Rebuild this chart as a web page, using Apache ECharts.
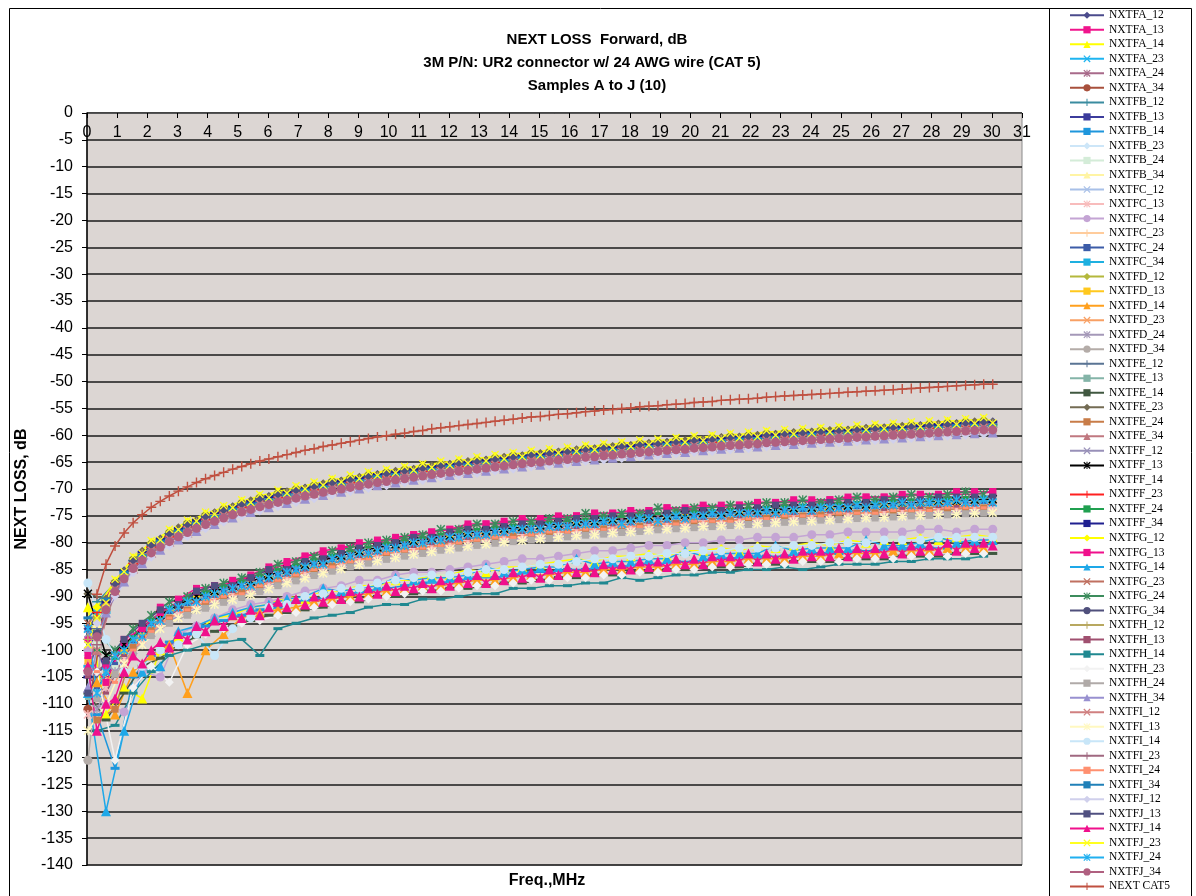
<!DOCTYPE html>
<html>
<head>
<meta charset="utf-8">
<title>NEXT LOSS Forward, dB</title>
<script src="https://cdn.jsdelivr.net/npm/echarts@6/dist/echarts.min.js"></script>
<style>
  html, body { margin: 0; padding: 0; background: #ffffff; }
  #chart { width: 1196px; height: 896px; }
</style>
</head>
<body>
<div id="chart"></div>
<script>
// Sweep frequencies in MHz (two interleaved halves of the 0.3 MHz sweep)
const FREQ_A = [0.03, 0.63, 1.23, 1.83, 2.43, 3.03, 3.63, 4.23, 4.83, 5.43, 6.03, 6.63, 7.23, 7.83, 8.43, 9.03, 9.63, 10.23, 10.83, 11.43, 12.03, 12.63, 13.23, 13.83, 14.43, 15.03, 15.63, 16.23, 16.83, 17.43, 18.03, 18.63, 19.23, 19.83, 20.43, 21.03, 21.63, 22.23, 22.83, 23.43, 24.03, 24.63, 25.23, 25.83, 26.43, 27.03, 27.63, 28.23, 28.83, 29.43, 30.03];
const FREQ_B = [0.33, 0.93, 1.53, 2.13, 2.73, 3.33, 3.93, 4.53, 5.13, 5.73, 6.33, 6.93, 7.53, 8.13, 8.73, 9.33, 9.93, 10.53, 11.13, 11.73, 12.33, 12.93, 13.53, 14.13, 14.73, 15.33, 15.93, 16.53, 17.13, 17.73, 18.33, 18.93, 19.53, 20.13, 20.73, 21.33, 21.93, 22.53, 23.13, 23.73, 24.33, 24.93, 25.53, 26.13, 26.73, 27.33, 27.93, 28.53, 29.13, 29.73];
const FREQ_ALL = FREQ_A.concat(FREQ_B).sort((a, b) => a - b);
const FREQ_CAT5 = FREQ_ALL.slice(1);

// Axis ticks
const X_TICKS = { min: 0, max: 31, step: 1 };
const Y_TICKS = { min: -140, max: 0, step: 5 };

// ---- NEXT loss, dB ----
const NXTFA_12 = [-96, -91.0, -85.2, -81.8, -79.3, -77.4, -75.8, -74.5, -73.3, -72.3, -71.4, -70.6, -69.8, -69.1, -68.5, -67.9, -67.3, -66.8, -66.3, -65.8, -65.4, -65.0, -64.6, -64.2, -63.8, -63.5, -63.1, -62.8, -62.5, -62.2, -61.9, -61.6, -61.3, -61.1, -60.8, -60.5, -60.3, -60.1, -59.8, -59.6, -59.4, -59.2, -59.0, -58.8, -58.6, -58.4, -58.2, -58.0, -57.8, -57.6, -57.5];
const NXTFA_13 = [-98, -103, -99, -95.5, -92, -90.5, -88.5, -88, -87.5, -86, -84.5, -83.5, -82.5, -81.5, -81, -80.5, -79.5, -79.5, -78.5, -78, -77.5, -77, -76.5, -76.5, -75.5, -76, -75.5, -75, -74.5, -74.5, -74.5, -74, -73.5, -74, -73.5, -73, -73, -72.5, -72.5, -72.5, -72, -72, -72, -71.5, -71.5, -71.5, -71, -71, -71, -71, -70.5];
const NXTFA_14 = [-92, -112, -107, -109, -100, -97.5, -96.5, -94, -93.5, -92, -91.5, -90, -90.5, -89, -89, -88, -88, -87, -87, -86, -86, -85, -85.5, -84.5, -84.5, -84, -83.5, -83, -83.5, -82.5, -82.5, -82, -82.5, -81.5, -81.5, -81, -81.5, -80.5, -81, -80.5, -80, -80.5, -79.5, -80, -79.5, -79.5, -79, -79.5, -79, -78.5, -79];
const NXTFA_23 = [-93, -88.1, -83.8, -80.9, -78.8, -77.1, -75.6, -74.4, -73.3, -72.3, -71.5, -70.7, -70.0, -69.3, -68.7, -68.1, -67.6, -67.1, -66.6, -66.1, -65.7, -65.3, -64.9, -64.5, -64.1, -63.8, -63.5, -63.1, -62.8, -62.5, -62.2, -62.0, -61.7, -61.4, -61.2, -60.9, -60.7, -60.4, -60.2, -60.0, -59.8, -59.6, -59.4, -59.2, -59.0, -58.8, -58.6, -58.4, -58.2, -58.0];
const NXTFA_24 = [-104, -101, -98, -94.8, -92.5, -91, -89.7, -88.6, -87.7, -86.6, -85.5, -84.6, -83.6, -82.8, -82.0, -81.3, -80.6, -80.0, -79.5, -78.9, -78.5, -78.0, -77.6, -77.3, -77.0, -76.7, -76.4, -76.1, -75.9, -75.6, -75.4, -75.1, -74.9, -74.7, -74.5, -74.3, -74.1, -73.9, -73.7, -73.5, -73.3, -73.2, -73.0, -72.9, -72.7, -72.5, -72.4, -72.3, -72.1, -72.0];
const NXTFA_34 = [-111, -92.0, -86.2, -82.8, -80.3, -78.4, -76.8, -75.5, -74.3, -73.3, -72.4, -71.6, -70.8, -70.1, -69.5, -68.9, -68.3, -67.8, -67.3, -66.8, -66.4, -66.0, -65.6, -65.2, -64.8, -64.5, -64.1, -63.8, -63.5, -63.2, -62.9, -62.6, -62.3, -62.1, -61.8, -61.5, -61.3, -61.1, -60.8, -60.6, -60.4, -60.2, -60.0, -59.8, -59.6, -59.4, -59.2, -59.0, -58.8, -58.6, -58.5];

const NXTFB_12 = [-91, -87.6, -83.3, -80.4, -78.3, -76.6, -75.1, -73.9, -72.8, -71.8, -71.0, -70.2, -69.5, -68.8, -68.2, -67.6, -67.1, -66.6, -66.1, -65.6, -65.2, -64.8, -64.4, -64.0, -63.6, -63.3, -63.0, -62.6, -62.3, -62.0, -61.7, -61.5, -61.2, -60.9, -60.7, -60.4, -60.2, -59.9, -59.7, -59.5, -59.3, -59.1, -58.9, -58.7, -58.5, -58.3, -58.1, -57.9, -57.7, -57.5];
const NXTFB_13 = [-96, -104, -99.5, -96, -93, -91, -89.5, -88.5, -87.6, -86.7, -85.6, -84.5, -83.6, -82.7, -81.9, -81.1, -80.4, -79.8, -79.2, -78.7, -78.2, -77.7, -77.3, -76.9, -76.6, -76.3, -76.0, -75.7, -75.5, -75.2, -75.0, -74.7, -74.5, -74.3, -74.0, -73.9, -73.7, -73.5, -73.3, -73.1, -73.0, -72.8, -72.6, -72.4, -72.3, -72.1, -72.0, -71.8, -71.7, -71.5, -71.4];
const NXTFB_14 = [-112, -122, -105, -101, -98.5, -97, -95.5, -94.5, -93.5, -92.5, -92, -91, -90.5, -90, -89.5, -89, -88.5, -88, -87.5, -87.5, -87, -86.5, -86.5, -86, -85.5, -85.5, -85, -85, -84.5, -84.5, -84, -84, -83.5, -83.5, -83, -83, -82.5, -82.5, -82.5, -82, -82, -82, -81.5, -81.5, -81, -81, -81, -81, -80.5, -80.5];
const NXTFB_23 = [-101, -93, -86.5, -82.6, -80.1, -78.6, -76.7, -75.6, -74.2, -73.4, -72.3, -71.7, -70.7, -70.2, -69.4, -69.0, -68.2, -67.9, -67.2, -66.9, -66.3, -66.1, -65.5, -65.3, -64.7, -64.6, -64.0, -63.9, -63.4, -63.3, -62.8, -62.7, -62.2, -62.2, -61.7, -61.6, -61.2, -61.2, -60.7, -60.7, -60.3, -60.3, -59.9, -59.9, -59.5, -59.5, -59.1, -59.1, -58.7, -58.7, -58.5];
const NXTFB_24 = [-99, -103, -99, -95.8, -93.5, -92, -90.7, -89.6, -88.7, -87.6, -86.5, -85.6, -84.6, -83.8, -83.0, -82.3, -81.6, -81.0, -80.5, -79.9, -79.5, -79.0, -78.6, -78.3, -78.0, -77.7, -77.4, -77.1, -76.9, -76.6, -76.4, -76.1, -75.9, -75.7, -75.5, -75.3, -75.1, -74.9, -74.7, -74.5, -74.3, -74.2, -74.0, -73.9, -73.7, -73.5, -73.4, -73.3, -73.1, -73.0];
const NXTFB_34 = [-95, -88.6, -84.3, -81.4, -79.3, -77.6, -76.1, -74.9, -73.8, -72.8, -72.0, -71.2, -70.5, -69.8, -69.2, -68.6, -68.1, -67.6, -67.1, -66.6, -66.2, -65.8, -65.4, -65.0, -64.6, -64.3, -64.0, -63.6, -63.3, -63.0, -62.7, -62.5, -62.2, -61.9, -61.7, -61.4, -61.2, -60.9, -60.7, -60.5, -60.3, -60.1, -59.9, -59.7, -59.5, -59.3, -59.1, -58.9, -58.7, -58.5];

const NXTFC_12 = [-99, -91.5, -85.7, -82.3, -79.8, -77.9, -76.3, -75.0, -73.8, -72.8, -71.9, -71.1, -70.3, -69.6, -69.0, -68.4, -67.8, -67.3, -66.8, -66.3, -65.9, -65.5, -65.1, -64.7, -64.3, -64.0, -63.6, -63.3, -63.0, -62.7, -62.4, -62.1, -61.8, -61.6, -61.3, -61.0, -60.8, -60.6, -60.3, -60.1, -59.9, -59.7, -59.5, -59.3, -59.1, -58.9, -58.7, -58.5, -58.3, -58.1, -58.0];
const NXTFC_13 = [-112, -107, -101.5, -98, -95, -93, -91.5, -90.5, -89.6, -88.7, -87.6, -86.5, -85.6, -84.7, -83.9, -83.1, -82.4, -81.8, -81.2, -80.7, -80.2, -79.7, -79.3, -78.9, -78.6, -78.3, -78.0, -77.7, -77.5, -77.2, -77.0, -76.7, -76.5, -76.3, -76.0, -75.9, -75.7, -75.5, -75.3, -75.1, -75.0, -74.8, -74.6, -74.4, -74.3, -74.1, -74.0, -73.8, -73.7, -73.5, -73.4];
const NXTFC_14 = [-100, -110, -111.5, -104, -105, -97, -95.5, -94, -92.5, -91.5, -91, -90, -89, -88.5, -88, -87, -87, -86, -85.5, -85.5, -85, -84.5, -84, -83.5, -83, -83, -82.5, -82, -81.5, -81.5, -81, -80.5, -80.5, -80, -80, -79.5, -79.5, -79, -79, -79, -78.5, -78.5, -78, -78, -78, -78, -77.5, -77.5, -78, -77.5, -77.5];
const NXTFC_23 = [-98, -89.1, -84.8, -81.9, -79.8, -78.1, -76.6, -75.4, -74.3, -73.3, -72.5, -71.7, -71.0, -70.3, -69.7, -69.1, -68.6, -68.1, -67.6, -67.1, -66.7, -66.3, -65.9, -65.5, -65.1, -64.8, -64.5, -64.1, -63.8, -63.5, -63.2, -63.0, -62.7, -62.4, -62.2, -61.9, -61.7, -61.4, -61.2, -61.0, -60.8, -60.6, -60.4, -60.2, -60.0, -59.8, -59.6, -59.4, -59.2, -59.0];
const NXTFC_24 = [-107, -102.5, -98.5, -95.3, -93, -91.5, -90.2, -89.1, -88.2, -87.1, -86.0, -85.1, -84.1, -83.3, -82.5, -81.8, -81.1, -80.5, -80.0, -79.4, -79.0, -78.5, -78.1, -77.8, -77.5, -77.2, -76.9, -76.6, -76.4, -76.1, -75.9, -75.6, -75.4, -75.2, -75.0, -74.8, -74.6, -74.4, -74.2, -74.0, -73.8, -73.7, -73.5, -73.4, -73.2, -73.0, -72.9, -72.8, -72.6, -72.5];
const NXTFC_34 = [-103, -93, -85.7, -82.3, -79.8, -77.9, -76.3, -75.0, -73.8, -72.8, -71.9, -71.1, -70.3, -69.6, -69.0, -68.4, -67.8, -67.3, -66.8, -66.3, -65.9, -65.5, -65.1, -64.7, -64.3, -64.0, -63.6, -63.3, -63.0, -62.7, -62.4, -62.1, -61.8, -61.6, -61.3, -61.0, -60.8, -60.6, -60.3, -60.1, -59.9, -59.7, -59.5, -59.3, -59.1, -58.9, -58.7, -58.5, -58.3, -58.1, -58.0];

const NXTFD_12 = [-94, -87.4, -83.5, -80.3, -78.4, -76.5, -75.2, -73.8, -72.9, -71.7, -71.1, -70.1, -69.6, -68.7, -68.3, -67.5, -67.2, -66.5, -66.2, -65.5, -65.3, -64.7, -64.5, -63.9, -63.7, -63.2, -63.1, -62.5, -62.4, -61.9, -61.8, -61.4, -61.3, -60.8, -60.8, -60.3, -60.3, -59.8, -59.8, -59.4, -59.4, -59.0, -59.0, -58.6, -58.6, -58.2, -58.2, -57.8, -57.8, -57.5];
const NXTFD_13 = [-102, -106, -100.5, -97, -94, -92, -90.5, -89.5, -88.6, -87.7, -86.6, -85.5, -84.6, -83.7, -82.9, -82.1, -81.4, -80.8, -80.2, -79.7, -79.2, -78.7, -78.3, -77.9, -77.6, -77.3, -77.0, -76.7, -76.5, -76.2, -76.0, -75.7, -75.5, -75.3, -75.0, -74.9, -74.7, -74.5, -74.3, -74.1, -74.0, -73.8, -73.6, -73.4, -73.3, -73.1, -73.0, -72.8, -72.7, -72.5, -72.4];
const NXTFD_14 = [-106, -112, -104, -101, -99, -108, -100, -97, -94, -93, -92.5, -92, -91, -90.5, -90, -89.5, -89, -88.5, -88, -88, -87.5, -87, -87, -86.5, -86, -86, -85.5, -85.5, -85, -85, -84.5, -84.5, -84, -84, -83.5, -83.5, -83, -83, -83, -82.5, -82.5, -82, -82, -82, -81.5, -81.5, -81.5, -81, -81, -81];
const NXTFD_23 = [-102, -92.5, -86.7, -83.3, -80.8, -78.9, -77.3, -76.0, -74.8, -73.8, -72.9, -72.1, -71.3, -70.6, -70.0, -69.4, -68.8, -68.3, -67.8, -67.3, -66.9, -66.5, -66.1, -65.7, -65.3, -65.0, -64.6, -64.3, -64.0, -63.7, -63.4, -63.1, -62.8, -62.6, -62.3, -62.0, -61.8, -61.6, -61.3, -61.1, -60.9, -60.7, -60.5, -60.3, -60.1, -59.9, -59.7, -59.5, -59.3, -59.1, -59.0];
const NXTFD_24 = [-111, -104, -100, -96.8, -94.5, -93, -91.7, -90.6, -89.7, -88.6, -87.5, -86.6, -85.6, -84.8, -84.0, -83.3, -82.6, -82.0, -81.5, -80.9, -80.5, -80.0, -79.6, -79.3, -79.0, -78.7, -78.4, -78.1, -77.9, -77.6, -77.4, -77.1, -76.9, -76.7, -76.5, -76.3, -76.1, -75.9, -75.7, -75.5, -75.3, -75.2, -75.0, -74.9, -74.7, -74.5, -74.4, -74.3, -74.1, -74.0];
const NXTFD_34 = [-120.5, -92.0, -86.2, -82.8, -80.3, -78.4, -76.8, -75.5, -74.3, -73.3, -72.4, -71.6, -70.8, -70.1, -69.5, -68.9, -68.3, -67.8, -67.3, -66.8, -66.4, -66.0, -65.6, -65.2, -64.8, -64.5, -64.1, -63.8, -63.5, -63.2, -62.9, -62.6, -62.3, -62.1, -61.8, -61.5, -61.3, -61.1, -60.8, -60.6, -60.4, -60.2, -60.0, -59.8, -59.6, -59.4, -59.2, -59.0, -58.8, -58.6, -58.5];

const NXTFE_12 = [-96, -89, -83.8, -80.9, -78.8, -77.1, -75.6, -74.4, -73.3, -72.3, -71.5, -70.7, -70.0, -69.3, -68.7, -68.1, -67.6, -67.1, -66.6, -66.1, -65.7, -65.3, -64.9, -64.5, -64.1, -63.8, -63.5, -63.1, -62.8, -62.5, -62.2, -62.0, -61.7, -61.4, -61.2, -60.9, -60.7, -60.4, -60.2, -60.0, -59.8, -59.6, -59.4, -59.2, -59.0, -58.8, -58.6, -58.4, -58.2, -58.0];
const NXTFE_13 = [-109, -104, -101, -96.5, -94.5, -91.5, -90.5, -89, -89, -87.5, -86.5, -86, -84.5, -84, -83, -82, -81.5, -81, -80, -79.5, -79.5, -78.5, -78.5, -78, -77.5, -77.5, -77, -76.5, -76.5, -76, -76, -75.5, -75.5, -75.5, -75, -75, -74.5, -74.5, -74, -74, -74, -73.5, -73.5, -73.5, -73, -73, -73, -72.5, -72.5, -72.5, -72.5];
const NXTFE_14 = [-108, -113, -108, -103, -101.5, -99, -97.5, -96.5, -95.5, -94.5, -93.5, -93, -92.5, -92, -91, -91, -90, -90, -89.5, -89, -88.5, -88.5, -88, -87.5, -87.5, -87, -86.5, -86.5, -86, -86, -85.5, -85.5, -85, -85, -84.5, -84.5, -84.5, -84, -84, -83.5, -83.5, -83.5, -83, -83, -83, -82.5, -82.5, -82.5, -82, -82, -82];
const NXTFE_23 = [-89.5, -90.5, -85.4, -81.6, -79.5, -77.2, -75.9, -74.4, -73.4, -72.2, -71.5, -70.5, -69.9, -69.0, -68.6, -67.8, -67.4, -66.7, -66.4, -65.7, -65.5, -64.9, -64.7, -64.1, -63.9, -63.4, -63.2, -62.7, -62.6, -62.1, -62.0, -61.5, -61.4, -61.0, -60.9, -60.4, -60.4, -60.0, -59.9, -59.5, -59.5, -59.1, -59.1, -58.7, -58.7, -58.3, -58.3, -57.9, -57.9, -57.5, -57.6];
const NXTFE_24 = [-113, -111, -99.5, -96.3, -94, -92.5, -91.2, -90.1, -89.2, -88.1, -87.0, -86.1, -85.1, -84.3, -83.5, -82.8, -82.1, -81.5, -81.0, -80.4, -80.0, -79.5, -79.1, -78.8, -78.5, -78.2, -77.9, -77.6, -77.4, -77.1, -76.9, -76.6, -76.4, -76.2, -76.0, -75.8, -75.6, -75.4, -75.2, -75.0, -74.8, -74.7, -74.5, -74.4, -74.2, -74.0, -73.9, -73.8, -73.6, -73.5];
const NXTFE_34 = [-100, -89.1, -84.8, -81.9, -79.8, -78.1, -76.6, -75.4, -74.3, -73.3, -72.5, -71.7, -71.0, -70.3, -69.7, -69.1, -68.6, -68.1, -67.6, -67.1, -66.7, -66.3, -65.9, -65.5, -65.1, -64.8, -64.5, -64.1, -63.8, -63.5, -63.2, -63.0, -62.7, -62.4, -62.2, -61.9, -61.7, -61.4, -61.2, -61.0, -60.8, -60.6, -60.4, -60.2, -60.0, -59.8, -59.6, -59.4, -59.2, -59.0];

const NXTFF_12 = [-97, -92.5, -86.7, -83.3, -80.8, -78.9, -77.3, -76.0, -74.8, -73.8, -72.9, -72.1, -71.3, -70.6, -70.0, -69.4, -68.8, -68.3, -67.8, -67.3, -66.9, -66.5, -66.1, -65.7, -65.3, -65.0, -64.6, -64.3, -64.0, -63.7, -63.4, -63.1, -62.8, -62.6, -62.3, -62.0, -61.8, -61.6, -61.3, -61.1, -60.9, -60.7, -60.5, -60.3, -60.1, -59.9, -59.7, -59.5, -59.3, -59.1, -59.0];
const NXTFF_13 = [-89.5, -101, -99, -96, -93.5, -91.5, -90, -89, -88, -87.2, -86.1, -85, -84.1, -83.2, -82.4, -81.6, -80.9, -80.3, -79.7, -79.2, -78.7, -78.2, -77.8, -77.4, -77.1, -76.8, -76.5, -76.2, -76.0, -75.7, -75.5, -75.2, -75.0, -74.8, -74.5, -74.4, -74.2, -74.0, -73.8, -73.6, -73.5, -73.3, -73.1, -72.9, -72.8, -72.6, -72.5, -72.3, -72.2, -72.0, -71.9];
const NXTFF_14 = [-110, -115, -104, -100, -98, -96.5, -95.5, -94.5, -93.5, -92.5, -92, -91, -90.5, -90, -89.5, -89, -88.5, -88, -87.5, -87.5, -87, -86.5, -86, -86, -85.5, -85.5, -85, -84.5, -84.5, -84, -84, -83.5, -83.5, -83, -83, -83, -82.5, -82.5, -82, -82, -82, -81.5, -81.5, -81.5, -81, -81, -81, -80.5, -80.5, -80.5];
const NXTFF_23 = [-93, -87.5, -83.9, -80.8, -78.9, -77.0, -75.7, -74.3, -73.4, -72.2, -71.6, -70.6, -70.1, -69.2, -68.8, -68.0, -67.7, -67.0, -66.7, -66.0, -65.8, -65.2, -65.0, -64.4, -64.2, -63.7, -63.6, -63.0, -62.9, -62.4, -62.3, -61.9, -61.8, -61.3, -61.3, -60.8, -60.8, -60.3, -60.3, -59.9, -59.9, -59.5, -59.5, -59.1, -59.1, -58.7, -58.7, -58.3, -58.3, -57.9];
const NXTFF_24 = [-100, -101.5, -97.5, -94.3, -92, -90.5, -89.2, -88.1, -87.2, -86.1, -85.0, -84.1, -83.1, -82.3, -81.5, -80.8, -80.1, -79.5, -79.0, -78.4, -78.0, -77.5, -77.1, -76.8, -76.5, -76.2, -75.9, -75.6, -75.4, -75.1, -74.9, -74.6, -74.4, -74.2, -74.0, -73.8, -73.6, -73.4, -73.2, -73.0, -72.8, -72.7, -72.5, -72.4, -72.2, -72.0, -71.9, -71.8, -71.6, -71.5];
const NXTFF_34 = [-105, -91.0, -85.2, -81.8, -79.3, -77.4, -75.8, -74.5, -73.3, -72.3, -71.4, -70.6, -69.8, -69.1, -68.5, -67.9, -67.3, -66.8, -66.3, -65.8, -65.4, -65.0, -64.6, -64.2, -63.8, -63.5, -63.1, -62.8, -62.5, -62.2, -61.9, -61.6, -61.3, -61.1, -60.8, -60.5, -60.3, -60.1, -59.8, -59.6, -59.4, -59.2, -59.0, -58.8, -58.6, -58.4, -58.2, -58.0, -57.8, -57.6, -57.5];

const NXTFG_12 = [-92, -87.1, -82.8, -79.9, -77.8, -76.1, -74.6, -73.4, -72.3, -71.3, -70.5, -69.7, -69.0, -68.3, -67.7, -67.1, -66.6, -66.1, -65.6, -65.1, -64.7, -64.3, -63.9, -63.5, -63.1, -62.8, -62.5, -62.1, -61.8, -61.5, -61.2, -61.0, -60.7, -60.4, -60.2, -59.9, -59.7, -59.4, -59.2, -59.0, -58.8, -58.6, -58.4, -58.2, -58.0, -57.8, -57.6, -57.4, -57.2, -57.0];
const NXTFG_13 = [-101, -106, -98, -96, -93, -91, -89, -88, -87, -86.5, -85, -84, -82.5, -82, -81, -80, -80, -79, -78.5, -78, -77.5, -76.5, -76.5, -76, -76, -75.5, -75, -75, -74.5, -74.5, -74, -74, -73.5, -73.5, -73, -73.5, -73, -72.5, -72.5, -72, -72.5, -72, -71.5, -71.5, -71.5, -71, -71, -71, -70.5, -70.5, -70.5];
const NXTFG_14 = [-108, -130, -115, -104, -103, -96.5, -95.5, -94, -93, -92, -91.5, -90.5, -90, -88.5, -89, -88.5, -88, -86.5, -87, -86.5, -86.5, -86, -84.5, -85.5, -85, -84.5, -84.5, -83, -84, -83.5, -83.5, -83, -83, -81.5, -82.5, -82, -82, -82, -80.5, -81.5, -81, -81, -81, -79.5, -80.5, -80.5, -80, -79, -80, -79.5, -79.5];
const NXTFG_23 = [-95, -91, -86.2, -82.8, -80.3, -78.4, -76.8, -75.5, -74.3, -73.3, -72.4, -71.6, -70.8, -70.1, -69.5, -68.9, -68.3, -67.8, -67.3, -66.8, -66.4, -66.0, -65.6, -65.2, -64.8, -64.5, -64.1, -63.8, -63.5, -63.2, -62.9, -62.6, -62.3, -62.1, -61.8, -61.5, -61.3, -61.1, -60.8, -60.6, -60.4, -60.2, -60.0, -59.8, -59.6, -59.4, -59.2, -59.0, -58.8, -58.6, -58.5];
const NXTFG_24 = [-97, -100, -96, -93.5, -91, -90, -88.5, -87.5, -86.5, -85.5, -84, -83.5, -82.5, -81.5, -81, -80, -79.5, -79, -78.5, -77.5, -77.5, -76.5, -76.5, -76, -76, -75.5, -75.5, -74.5, -75, -74.5, -74.5, -73.5, -74, -73.5, -73.5, -73, -73, -72.5, -72.5, -72, -72.5, -72, -71.5, -72, -71.5, -71, -71.5, -71, -70.5, -71];
const NXTFG_34 = [-97, -87.6, -83.3, -80.4, -78.3, -76.6, -75.1, -73.9, -72.8, -71.8, -71.0, -70.2, -69.5, -68.8, -68.2, -67.6, -67.1, -66.6, -66.1, -65.6, -65.2, -64.8, -64.4, -64.0, -63.6, -63.3, -63.0, -62.6, -62.3, -62.0, -61.7, -61.5, -61.2, -60.9, -60.7, -60.4, -60.2, -59.9, -59.7, -59.5, -59.3, -59.1, -58.9, -58.7, -58.5, -58.3, -58.1, -57.9, -57.7, -57.5];

const NXTFH_12 = [-98, -92.5, -85.9, -82.1, -79.8, -78.1, -76.3, -74.8, -73.8, -72.9, -71.9, -71.0, -70.3, -69.7, -69.0, -68.3, -67.8, -67.4, -66.8, -66.2, -65.9, -65.6, -65.1, -64.6, -64.3, -64.1, -63.6, -63.2, -63.0, -62.8, -62.4, -62.0, -61.8, -61.7, -61.3, -60.9, -60.8, -60.7, -60.3, -60.0, -59.9, -59.8, -59.5, -59.2, -59.1, -59.0, -58.7, -58.4, -58.3, -58.2, -58.0];
const NXTFH_13 = [-105, -108, -101, -97.5, -94.5, -92.5, -91, -90, -89.1, -88.2, -87.1, -86, -85.1, -84.2, -83.4, -82.6, -81.9, -81.3, -80.7, -80.2, -79.7, -79.2, -78.8, -78.4, -78.1, -77.8, -77.5, -77.2, -77.0, -76.7, -76.5, -76.2, -76.0, -75.8, -75.5, -75.4, -75.2, -75.0, -74.8, -74.6, -74.5, -74.3, -74.1, -73.9, -73.8, -73.6, -73.5, -73.3, -73.2, -73.0, -72.9];
const NXTFH_14 = [-115, -114, -108, -104, -101, -100, -99, -98.5, -98, -101, -96, -95, -94, -93.5, -93, -92, -91.5, -91.5, -90.5, -90.5, -90, -89.5, -89.5, -88.5, -88.5, -88, -88, -87.5, -87.5, -86.5, -87, -86.5, -86, -86, -85.5, -85.5, -85, -85, -84.5, -85, -84.5, -84, -84, -84, -83.5, -83.5, -83, -83, -83, -82.5];
const NXTFH_23 = [-104, -120.5, -107, -103, -106, -99, -97, -96, -95, -94.5, -93.5, -93, -92, -91.5, -91, -90.5, -90, -89.5, -89, -89, -88.5, -88, -88, -87.5, -87, -87, -86.5, -86.5, -86, -86, -85.5, -85.5, -85, -85, -84.5, -84.5, -84, -84, -84, -83.5, -83.5, -83.5, -83, -83, -83, -82.5, -82.5, -82.5, -82, -82];
const NXTFH_24 = [-109, -104.5, -100.5, -97.3, -95, -93.5, -92.2, -91.1, -90.2, -89.1, -88.0, -87.1, -86.1, -85.3, -84.5, -83.8, -83.1, -82.5, -82.0, -81.4, -81.0, -80.5, -80.1, -79.8, -79.5, -79.2, -78.9, -78.6, -78.4, -78.1, -77.9, -77.6, -77.4, -77.2, -77.0, -76.8, -76.6, -76.4, -76.2, -76.0, -75.8, -75.7, -75.5, -75.4, -75.2, -75.0, -74.9, -74.8, -74.6, -74.5];
const NXTFH_34 = [-107, -93.0, -87.2, -83.8, -81.3, -79.4, -77.8, -76.5, -75.3, -74.3, -73.4, -72.6, -71.8, -71.1, -70.5, -69.9, -69.3, -68.8, -68.3, -67.8, -67.4, -67.0, -66.6, -66.2, -65.8, -65.5, -65.1, -64.8, -64.5, -64.2, -63.9, -63.6, -63.3, -63.1, -62.8, -62.5, -62.3, -62.1, -61.8, -61.6, -61.4, -61.2, -61.0, -60.8, -60.6, -60.4, -60.2, -60.0, -59.8, -59.6, -59.5];

const NXTFI_12 = [-100, -88.6, -84.3, -81.4, -79.3, -77.6, -76.1, -74.9, -73.8, -72.8, -72.0, -71.2, -70.5, -69.8, -69.2, -68.6, -68.1, -67.6, -67.1, -66.6, -66.2, -65.8, -65.4, -65.0, -64.6, -64.3, -64.0, -63.6, -63.3, -63.0, -62.7, -62.5, -62.2, -61.9, -61.7, -61.4, -61.2, -60.9, -60.7, -60.5, -60.3, -60.1, -59.9, -59.7, -59.5, -59.3, -59.1, -58.9, -58.7, -58.5];
const NXTFI_13 = [-115, -110, -102.5, -99, -96, -94, -92.5, -91.5, -90.6, -89.7, -88.6, -87.5, -86.6, -85.7, -84.9, -84.1, -83.4, -82.8, -82.2, -81.7, -81.2, -80.7, -80.3, -79.9, -79.6, -79.3, -79.0, -78.7, -78.5, -78.2, -78.0, -77.7, -77.5, -77.3, -77.0, -76.9, -76.7, -76.5, -76.3, -76.1, -76.0, -75.8, -75.6, -75.4, -75.3, -75.1, -75.0, -74.8, -74.7, -74.5, -74.4];
const NXTFI_14 = [-87.5, -98, -104, -103, -100, -99, -97, -101, -96, -94, -92, -91.5, -90, -89.5, -88.5, -88.5, -87.5, -87, -86.5, -86, -86, -85.5, -85, -85, -84.5, -84, -84, -83.5, -83, -83, -82.5, -82.5, -82, -82, -81.5, -81.5, -81, -81, -81, -80.5, -80.5, -80, -80, -80, -79.5, -79.5, -79.5, -79, -79, -79, -79];
const NXTFI_23 = [-99, -89.1, -84.8, -81.9, -79.8, -78.1, -76.6, -75.4, -74.3, -73.3, -72.5, -71.7, -71.0, -70.3, -69.7, -69.1, -68.6, -68.1, -67.6, -67.1, -66.7, -66.3, -65.9, -65.5, -65.1, -64.8, -64.5, -64.1, -63.8, -63.5, -63.2, -63.0, -62.7, -62.4, -62.2, -61.9, -61.7, -61.4, -61.2, -61.0, -60.8, -60.6, -60.4, -60.2, -60.0, -59.8, -59.6, -59.4, -59.2, -59.0];
const NXTFI_24 = [-104, -106, -100, -96.5, -94, -92.5, -91, -90, -89.5, -88, -87, -86, -85, -84.5, -83.5, -83, -82, -81.5, -81, -80.5, -80, -79.5, -79, -79, -78.5, -78, -78, -77.5, -77.5, -77, -77, -76.5, -76.5, -76, -76, -76, -75.5, -75.5, -75, -75, -75, -74.5, -74.5, -74.5, -74, -74, -74, -73.5, -73.5, -73.5];
const NXTFI_34 = [-94, -90.5, -85.5, -82.4, -79.7, -77.8, -76.4, -75.1, -73.7, -72.8, -72.0, -71.1, -70.2, -69.6, -69.1, -68.4, -67.7, -67.3, -66.9, -66.3, -65.8, -65.5, -65.2, -64.7, -64.2, -64.0, -63.7, -63.3, -62.9, -62.7, -62.5, -62.1, -61.7, -61.6, -61.4, -61.0, -60.7, -60.6, -60.4, -60.1, -59.8, -59.7, -59.6, -59.3, -59.0, -58.9, -58.8, -58.5, -58.2, -58.1, -58.1];

const NXTFJ_12 = [-95, -89.9, -85.6, -82.7, -80.6, -78.9, -77.4, -76.2, -75.1, -74.1, -73.3, -72.5, -71.8, -71.1, -70.5, -69.9, -69.4, -68.9, -68.4, -67.9, -67.5, -67.1, -66.7, -66.3, -65.9, -65.6, -65.3, -64.9, -64.6, -64.3, -64.0, -63.8, -63.5, -63.2, -63.0, -62.7, -62.5, -62.2, -62.0, -61.8, -61.6, -61.4, -61.2, -61.0, -60.8, -60.6, -60.4, -60.2, -60.0, -59.8];
const NXTFJ_13 = [-108, -102, -98, -95, -92.5, -91.5, -89, -88, -88, -86.5, -85, -85, -83.5, -83, -82, -81, -80.5, -80, -79, -79, -78, -77.5, -77.5, -77, -76.5, -76.5, -76, -75.5, -75.5, -75, -75, -74.5, -74.5, -74, -74, -74, -73.5, -73.5, -73, -73, -73, -72.5, -72.5, -72.5, -72, -72, -72, -71.5, -71.5, -71.5, -71.5];
const NXTFJ_14 = [
  -103, -115, -110, -109, -104, -101, -102.5, -100, -98.5, -99.5,
  -97, -98, -95.5, -96.5, -94.5, -95.5, -93.5, -94, -92.5, -93.5,
  -92, -91, -92, -90.5, -91.5, -90, -91, -89.5, -90.5, -89,
  -90, -88.5, -89.5, -88, -89, -88, -88.5, -87.5, -88.5, -87,
  -88, -86.5, -87.5, -86, -87.5, -86, -87, -85.5, -86.5, -85.5,
  -86.5, -85, -86, -84.5, -85.5, -84.5, -85.5, -84, -85, -84,
  -85, -83.5, -84.5, -83.5, -84.5, -83, -84, -83, -84, -82.5,
  -83.5, -82.5, -83.5, -82, -83.5, -82, -83, -82, -83, -81.5,
  -82.5, -81.5, -82.5, -81, -82.5, -81, -82, -81, -82, -80.5,
  -82, -80.5, -81.5, -80.5, -81.5, -80, -81.5, -80, -81, -80,
  -80.5];
const NXTFJ_23 = [
  -99, -94, -91.2, -86.8, -85.4, -82.5, -82.0, -79.6, -79.5, -77.5,
  -77.6, -75.8, -76.0, -74.3, -74.7, -73.1, -73.5, -72.0, -72.5, -71.0,
  -71.6, -70.2, -70.8, -69.4, -70.0, -68.7, -69.3, -68.0, -68.7, -67.4,
  -68.1, -66.8, -67.5, -66.3, -67.0, -65.8, -66.5, -65.3, -66.0, -64.8,
  -65.6, -64.4, -65.2, -64.0, -64.8, -63.6, -64.4, -63.2, -64.0, -62.8,
  -63.7, -62.5, -63.3, -62.2, -63.0, -61.8, -62.7, -61.5, -62.4, -61.2,
  -62.1, -60.9, -61.8, -60.7, -61.5, -60.4, -61.3, -60.1, -61.0, -59.9,
  -60.7, -59.6, -60.5, -59.4, -60.3, -59.1, -60.0, -58.9, -59.8, -58.7,
  -59.6, -58.5, -59.4, -58.3, -59.2, -58.1, -59.0, -57.9, -58.8, -57.7,
  -58.6, -57.5, -58.4, -57.3, -58.2, -57.1, -58.0, -56.9, -57.8, -56.7,
  -57.7];
const NXTFJ_24 = [
  -96, -108, -104, -101, -100, -98, -97.5, -95, -94.5, -92.5,
  -92, -91, -91, -90, -89.5, -89, -88.5, -88, -88, -87,
  -86.5, -86, -85.5, -85, -84.5, -84, -84, -83, -83, -82.5,
  -82, -82, -81.5, -81, -81, -80.5, -80, -80, -79.5, -79.5,
  -79, -79, -78.5, -78.5, -78.5, -78, -78, -77.5, -77.5, -77.5,
  -77.5, -77, -77, -77, -76.5, -76.5, -76.5, -76, -76, -76.5,
  -76, -75.5, -75.5, -76, -75.5, -75, -75.5, -75, -75, -74.5,
  -75, -74.5, -74.5, -74.5, -74.5, -74, -74.5, -74, -74, -73.5,
  -74, -73.5, -73.5, -73.5, -73.5, -73, -73.5, -73, -73, -73,
  -72.5, -73, -72.5, -72.5, -72.5, -72.5, -72, -72.5, -72.5, -72,
  -72.5];
const NXTFJ_34 = [
  -104, -97.5, -92.5, -89.1, -86.7, -84.8, -83.3, -81.9, -80.8, -79.8,
  -78.9, -78.1, -77.3, -76.6, -76.0, -75.4, -74.8, -74.3, -73.8, -73.3,
  -72.9, -72.5, -72.1, -71.7, -71.3, -71.0, -70.6, -70.3, -70.0, -69.7,
  -69.4, -69.1, -68.8, -68.6, -68.3, -68.1, -67.8, -67.6, -67.3, -67.1,
  -66.9, -66.7, -66.5, -66.3, -66.1, -65.9, -65.7, -65.5, -65.3, -65.1,
  -65.0, -64.8, -64.6, -64.5, -64.3, -64.1, -64.0, -63.8, -63.7, -63.5,
  -63.4, -63.2, -63.1, -63.0, -62.8, -62.7, -62.6, -62.4, -62.3, -62.2,
  -62.0, -61.9, -61.8, -61.7, -61.6, -61.4, -61.3, -61.2, -61.1, -61.0,
  -60.9, -60.8, -60.7, -60.6, -60.5, -60.4, -60.3, -60.2, -60.1, -60.0,
  -59.9, -59.8, -59.7, -59.6, -59.5, -59.4, -59.3, -59.2, -59.1, -59.0,
  -59.0];

// Category 5 connecting-hardware NEXT limit
const NEXT_CAT5 = [
  -89.6, -84.0, -80.6, -78.2, -76.3, -74.8, -73.4, -72.3, -71.3, -70.4,
  -69.6, -68.8, -68.1, -67.5, -66.9, -66.3, -65.8, -65.3, -64.8, -64.4,
  -64.0, -63.6, -63.2, -62.8, -62.5, -62.1, -61.8, -61.5, -61.2, -60.9,
  -60.6, -60.3, -60.1, -59.8, -59.6, -59.3, -59.1, -58.8, -58.6, -58.4,
  -58.2, -58.0, -57.8, -57.6, -57.4, -57.2, -57.0, -56.8, -56.6, -56.5,
  -56.3, -56.1, -56.0, -55.8, -55.6, -55.5, -55.3, -55.2, -55.0, -54.9,
  -54.7, -54.6, -54.5, -54.3, -54.2, -54.1, -53.9, -53.8, -53.7, -53.5,
  -53.4, -53.3, -53.2, -53.1, -52.9, -52.8, -52.7, -52.6, -52.5, -52.4,
  -52.3, -52.2, -52.1, -52.0, -51.9, -51.8, -51.7, -51.6, -51.5, -51.4,
  -51.3, -51.2, -51.1, -51.0, -50.9, -50.8, -50.7, -50.6, -50.5, -50.5];

// Series in legend order: [name, values, frequencies]
const SERIES_DATA = [
  ['NXTFA_12', NXTFA_12, FREQ_A], ['NXTFA_13', NXTFA_13, FREQ_A], ['NXTFA_14', NXTFA_14, FREQ_A],
  ['NXTFA_23', NXTFA_23, FREQ_B], ['NXTFA_24', NXTFA_24, FREQ_B], ['NXTFA_34', NXTFA_34, FREQ_A],
  ['NXTFB_12', NXTFB_12, FREQ_B], ['NXTFB_13', NXTFB_13, FREQ_A], ['NXTFB_14', NXTFB_14, FREQ_B],
  ['NXTFB_23', NXTFB_23, FREQ_A], ['NXTFB_24', NXTFB_24, FREQ_B], ['NXTFB_34', NXTFB_34, FREQ_B],
  ['NXTFC_12', NXTFC_12, FREQ_A], ['NXTFC_13', NXTFC_13, FREQ_A], ['NXTFC_14', NXTFC_14, FREQ_A],
  ['NXTFC_23', NXTFC_23, FREQ_B], ['NXTFC_24', NXTFC_24, FREQ_B], ['NXTFC_34', NXTFC_34, FREQ_A],
  ['NXTFD_12', NXTFD_12, FREQ_B], ['NXTFD_13', NXTFD_13, FREQ_A], ['NXTFD_14', NXTFD_14, FREQ_B],
  ['NXTFD_23', NXTFD_23, FREQ_A], ['NXTFD_24', NXTFD_24, FREQ_B], ['NXTFD_34', NXTFD_34, FREQ_A],
  ['NXTFE_12', NXTFE_12, FREQ_B], ['NXTFE_13', NXTFE_13, FREQ_A], ['NXTFE_14', NXTFE_14, FREQ_A],
  ['NXTFE_23', NXTFE_23, FREQ_A], ['NXTFE_24', NXTFE_24, FREQ_B], ['NXTFE_34', NXTFE_34, FREQ_B],
  ['NXTFF_12', NXTFF_12, FREQ_A], ['NXTFF_13', NXTFF_13, FREQ_A], ['NXTFF_14', NXTFF_14, FREQ_B],
  ['NXTFF_23', NXTFF_23, FREQ_B], ['NXTFF_24', NXTFF_24, FREQ_B], ['NXTFF_34', NXTFF_34, FREQ_A],
  ['NXTFG_12', NXTFG_12, FREQ_B], ['NXTFG_13', NXTFG_13, FREQ_A], ['NXTFG_14', NXTFG_14, FREQ_A],
  ['NXTFG_23', NXTFG_23, FREQ_A], ['NXTFG_24', NXTFG_24, FREQ_B], ['NXTFG_34', NXTFG_34, FREQ_B],
  ['NXTFH_12', NXTFH_12, FREQ_A], ['NXTFH_13', NXTFH_13, FREQ_A], ['NXTFH_14', NXTFH_14, FREQ_B],
  ['NXTFH_23', NXTFH_23, FREQ_B], ['NXTFH_24', NXTFH_24, FREQ_B], ['NXTFH_34', NXTFH_34, FREQ_A],
  ['NXTFI_12', NXTFI_12, FREQ_B], ['NXTFI_13', NXTFI_13, FREQ_A], ['NXTFI_14', NXTFI_14, FREQ_A],
  ['NXTFI_23', NXTFI_23, FREQ_B], ['NXTFI_24', NXTFI_24, FREQ_B], ['NXTFI_34', NXTFI_34, FREQ_A],
  ['NXTFJ_12', NXTFJ_12, FREQ_B], ['NXTFJ_13', NXTFJ_13, FREQ_A], ['NXTFJ_14', NXTFJ_14, FREQ_ALL],
  ['NXTFJ_23', NXTFJ_23, FREQ_ALL], ['NXTFJ_24', NXTFJ_24, FREQ_ALL], ['NXTFJ_34', NXTFJ_34, FREQ_ALL],
  ['NEXT CAT5', NEXT_CAT5, FREQ_CAT5]
];

// Line / marker colour of each series (same order as above)
const SERIES_COLORS = [
  '#4b4b8c', '#f0148c', '#ffff00', '#1eb4f0', '#a86a8a', '#a8503c',
  '#3a8ca0', '#3c3c9c', '#1e96dc', '#cde6f8', '#d4ecd8', '#fff4a4',
  '#a8c0e8', '#f8bcbc', '#c4a4d4', '#ffcc9c', '#3c5ca8', '#1eb0e0',
  '#b4b83c', '#ffc81e', '#ffa01e', '#f8a064', '#a498b8', '#b4aca8',
  '#5a7494', '#84b4a8', '#405840', '#746c54', '#c87c48', '#c07880',
  '#9890b8', '#000000', 'rgba(0,0,0,0)', '#ff2020', '#20a050', '#202090',
  '#ffff00', '#f0108c', '#1ea8e8', '#c07060', '#3c8c5c', '#50507c',
  '#b8a860', '#a05070', '#208890', '#f2f2f2', '#b0aaa8', '#9890d0',
  '#d08080', '#fff8c0', '#c8e6f8', '#a06880', '#ff9070', '#2080b8',
  '#d0d0ec', '#505080', '#f0108c', '#ffff20', '#20b0f0', '#b06080',
  '#c05040'
];

// Marker shapes cycle through nine styles
const MARKER_CYCLE = ['diamond', 'square', 'triangle', 'cross', 'asterisk', 'circle', 'plus', 'dot', 'dash'];

const CROSS_PATH = 'path://M0,1.2L1.2,0L5,3.8L8.8,0L10,1.2L6.2,5L10,8.8L8.8,10L5,6.2L1.2,10L0,8.8L3.8,5Z';
const ASTERISK_PATH = 'path://M0,1.2L1.2,0L5,3.8L8.8,0L10,1.2L6.2,5L10,8.8L8.8,10L5,6.2L1.2,10L0,8.8L3.8,5Z M4.3,0H5.7V10H4.3Z';
const PLUS_PATH = 'path://M4.3,0H5.7V4.3H10V5.7H5.7V10H4.3V5.7H0V4.3H4.3Z';

const MARKER_STYLE = {
  diamond: { symbol: 'diamond', size: 9 },
  square: { symbol: 'rect', size: 7 },
  triangle: { symbol: 'triangle', size: 10 },
  cross: { symbol: CROSS_PATH, size: 8 },
  asterisk: { symbol: ASTERISK_PATH, size: 9 },
  circle: { symbol: 'circle', size: 9 },
  plus: { symbol: PLUS_PATH, size: 10 },
  dot: { symbol: 'rect', size: [6, 3] },
  dash: { symbol: 'rect', size: [9, 3] }
};

const FONT_SANS = '"Liberation Sans", Arial, Helvetica, sans-serif';
const FONT_SERIF = '"Liberation Serif", "Times New Roman", serif';

const series = SERIES_DATA.map(([name, values, freq], i) => {
  const color = SERIES_COLORS[i];
  const mk = MARKER_STYLE[MARKER_CYCLE[i % MARKER_CYCLE.length]];
  const n = Math.min(values.length, freq.length);
  const data = [];
  for (let j = 0; j < n; j++) data.push([freq[j], values[j]]);
  const hidden = name === 'NXTFF_14';
  return {
    type: 'line',
    name: name,
    data: data,
    symbol: hidden ? 'none' : mk.symbol,
    symbolSize: mk.size,
    showSymbol: !hidden,
    lineStyle: { color: color, width: 1.5 },
    itemStyle: { color: color, borderColor: color, borderWidth: 0 },
    emphasis: { disabled: true },
    animation: false,
    silent: true
  };
});

const chart = echarts.init(document.getElementById('chart'), null, { renderer: 'canvas' });

chart.setOption({
  backgroundColor: '#ffffff',
  animation: false,
  grid: {
    left: 87, top: 113, width: 935, height: 752,
    show: true, backgroundColor: '#dcd6d3', borderColor: '#8a8a8a', borderWidth: 1
  },
  xAxis: {
    type: 'value',
    position: 'top',
    min: X_TICKS.min, max: X_TICKS.max, interval: X_TICKS.step,
    axisLine: { show: true, lineStyle: { color: '#555555', width: 1 } },
    axisTick: { show: true, inside: true, length: 5, lineStyle: { color: '#000000', width: 1 } },
    axisLabel: { inside: true, margin: 12, color: '#000000', fontFamily: FONT_SANS, fontSize: 16, showMinLabel: true, showMaxLabel: true },
    splitLine: { show: false }
  },
  yAxis: {
    type: 'value',
    min: Y_TICKS.min, max: Y_TICKS.max, interval: Y_TICKS.step,
    name: 'NEXT LOSS, dB',
    nameLocation: 'middle',
    nameGap: 57,
    nameRotate: 90,
    nameTextStyle: { fontFamily: FONT_SANS, fontSize: 16, fontWeight: 'bold', color: '#000000' },
    axisLine: { show: true, lineStyle: { color: '#000000', width: 1.5 } },
    axisTick: { show: true, inside: false, length: 5, lineStyle: { color: '#000000', width: 1 } },
    axisLabel: { margin: 14, color: '#000000', fontFamily: FONT_SANS, fontSize: 16 },
    splitLine: { show: true, lineStyle: { color: '#1a1a1a', width: 1.5 } }
  },
  legend: {
    orient: 'vertical',
    left: 1069,
    top: 8,
    padding: 0,
    itemWidth: 34,
    itemHeight: 9,
    itemGap: 0,
    selectedMode: false,
    textStyle: { fontFamily: FONT_SERIF, fontSize: 11.5, color: '#000000', lineHeight: 14.52 },
    data: SERIES_DATA.map(s => s[0])
  },
  graphic: [
    { type: 'rect', silent: true, z: -10,
      shape: { x: 9.5, y: 8.5, width: 1182, height: 900 },
      style: { fill: 'none', stroke: '#000000', lineWidth: 1 } },
    { type: 'line', silent: true,
      shape: { x1: 1049.5, y1: 8, x2: 1049.5, y2: 896 },
      style: { stroke: '#000000', lineWidth: 1 } },
    { type: 'text', silent: true, x: 597, y: 40,
      style: { text: 'NEXT LOSS  Forward, dB', font: 'bold 15px ' + FONT_SANS, fill: '#000000', textAlign: 'center', textVerticalAlign: 'middle' } },
    { type: 'text', silent: true, x: 592, y: 63,
      style: { text: '3M P/N: UR2 connector w/ 24 AWG wire (CAT 5)', font: 'bold 15px ' + FONT_SANS, fill: '#000000', textAlign: 'center', textVerticalAlign: 'middle' } },
    { type: 'text', silent: true, x: 597, y: 86,
      style: { text: 'Samples A to J (10)', font: 'bold 15px ' + FONT_SANS, fill: '#000000', textAlign: 'center', textVerticalAlign: 'middle' } },
    { type: 'text', silent: true, x: 547, y: 881,
      style: { text: 'Freq.,MHz', font: 'bold 16px ' + FONT_SANS, fill: '#000000', textAlign: 'center', textVerticalAlign: 'middle' } }
  ],
  series: series
});
</script>
</body>
</html>
